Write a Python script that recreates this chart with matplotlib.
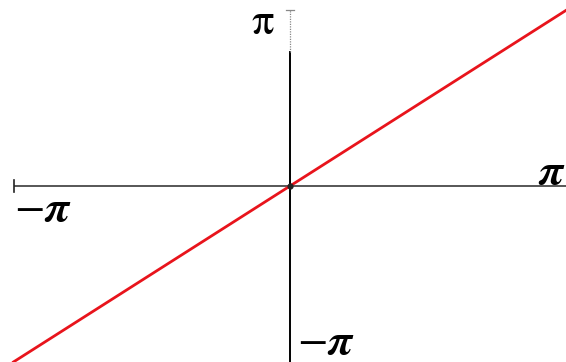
import numpy as np
import matplotlib.pyplot as plt

plt.rcParams["mathtext.fontset"] = "stix"

# identity curve y = x on [-pi, pi]
xs = [-np.pi, 0.0, np.pi]
ys = [-np.pi, 0.0, np.pi]

tick_labels = {"x_min": r"$-\boldsymbol{\pi}$", "x_max": r"$\boldsymbol{\pi}$",
               "y_min": r"$-\boldsymbol{\pi}$", "y_max": r"$\mathrm{\pi}$"}

fig = plt.figure(figsize=(5.66, 3.62), dpi=100)
ax = fig.add_axes([0, 0, 1, 1])
ax.set_xlim(-290 / 88.0, 276 / 88.0)
ax.set_ylim(-176 / 56.0, 186 / 56.0)
ax.axis("off")

# horizontal axis with end tick at -pi
ax.plot([-np.pi, 3.2], [0, 0], color="#3a3a3a", lw=1.2, solid_capstyle="butt")
ax.plot([-np.pi, -np.pi], [-0.1, 0.1], color="#222222", lw=1.2)

# vertical axis: solid part, then a dotted stretch up to pi
ax.plot([0, 0], [-3.4, 2.4], color="black", lw=1.4)
ax.plot([0, 0], [2.4, np.pi], color="#888888", lw=0.9, ls=(0, (1, 1)))
ax.plot([-0.05, 0.05], [np.pi, np.pi], color="#888888", lw=0.9)

ax.plot(xs, ys, color="#e8141c", lw=2.0)
ax.plot([0], [0], marker="o", ms=3.5, color="#222222")

font = dict(fontsize=32, color="black")
ax.text(-0.31, 2.93, tick_labels["y_max"], ha="center", va="center", **font)
ax.text(0.08, -2.78, tick_labels["y_min"], ha="left", va="center", **font)
ax.text(-np.pi + 0.01, -0.40, tick_labels["x_min"], ha="left", va="center", **font)
ax.text(2.98, 0.26, tick_labels["x_max"], ha="center", va="center", **font)

fig.savefig("out.png", dpi=100)
